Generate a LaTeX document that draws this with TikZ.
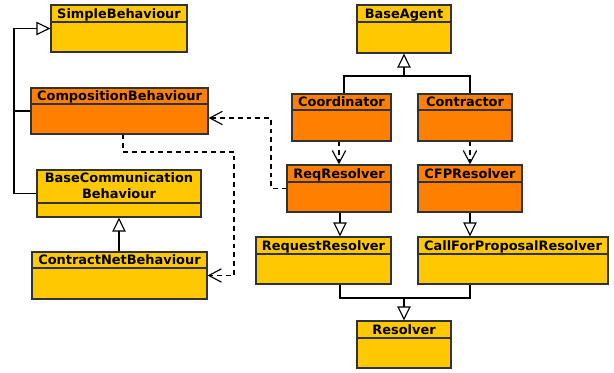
\documentclass[tikz,border=0pt]{standalone}
\usepackage{fontspec}
\setmainfont{DejaVu Sans}
\usetikzlibrary{arrows.meta,fit,calc}
\definecolor{cy}{RGB}{255,200,0}
\definecolor{co}{RGB}{255,128,0}
\definecolor{bd}{RGB}{50,50,50}
\newcommand\umlbox[8]{%
  \node[box, fill=#7, fit={(#2,#3) (#4,#5)}] (#1) {};
  \draw[bd, line width=0.9pt] (#2,#6) -- (#4,#6);
  \node[ttl, anchor=base] (#1t) at ({(#2+#4)/2},{#6-3.2}) {#8};
}
\begin{document}
\begin{tikzpicture}[x=0.75pt,y=-0.75pt,
  box/.style={draw=bd, line width=0.9pt, inner sep=0pt},
  ttl/.style={font=\fontsize{9.7}{12}\selectfont\bfseries, inner sep=0pt},
  conn/.style={line width=0.85pt},
  gen/.style={conn, -{Triangle[open,length=10.5pt,width=10pt,line width=0.85pt]}},
  dep/.style={conn, dash pattern=on 3.6pt off 3pt, -{Straight Barb[length=9.5pt,width=10pt,line width=0.85pt]}}]
\useasboundingbox (0,0) rectangle (614,373);

\umlbox{sb}{51}{5}{187}{52}{22}{cy}{SimpleBehaviour}
\umlbox{cb}{31}{88}{208}{134}{104}{co}{CompositionBehaviour}
\node[box, fill=cy, fit={(37,170) (201,217)}] (bcb) {};
\draw[bd, line width=0.9pt] (37,203) -- (201,203);
\node[ttl, anchor=base, align=center] (bcbt) at (119,199) {BaseCommunication\\Behaviour};
\umlbox{cnb}{32}{252}{207}{299}{268}{cy}{ContractNetBehaviour}
\umlbox{ba}{357}{5}{451}{53}{22}{cy}{BaseAgent}
\umlbox{coo}{292}{94}{391}{141}{110}{co}{Coordinator}
\umlbox{ctr}{418}{94}{512}{141}{110}{co}{Contractor}
\umlbox{rr}{287}{165}{391}{212}{182}{co}{ReqResolver}
\umlbox{cfp}{418}{165}{522}{212}{182}{co}{CFPResolver}
\umlbox{req}{256}{237}{391}{284}{254}{cy}{RequestResolver}
\umlbox{cfpr}{418}{237}{608}{284}{254}{cy}{CallForProposalResolver}
\umlbox{res}{357}{321}{451}{368}{338}{cy}{Resolver}

% helper coordinates
\coordinate (lx) at (14,0);
\coordinate (d1) at (123,152);
\coordinate (d2) at (234,0);
\coordinate (d3) at (271,118);
\coordinate (xa) at (344,0);
\coordinate (xb) at (470,0);
\coordinate (xs) at (404,0);
\coordinate (ya) at (0,76);
\coordinate (yb) at (0,298);
\coordinate (xr) at (340,0);

% generalizations, left side
\draw[conn] (cb.west) -- (cb.west -| lx);
\draw[gen] (bcb.west) -- (bcb.west -| lx) |- (sb.west);
\draw[gen] (cnb.north -| bcb.south) -- (bcb.south);

% dependencies, left side
\draw[dep] (cb.south -| d1) -- (d1) -| (d2 |- cnb.east) -- (cnb.east);
\draw[dep] (rr.west) -| (d3) -- (cb.east |- d3);

% agents to BaseAgent
\draw[conn] (coo.north -| xa) |- (xb |- ya) -- (ctr.north -| xb);
\draw[gen, line width=2pt] (xs |- ya) -- (ba.south -| xs);

% dependencies, agents to resolvers
\draw[dep] (coo.south -| rr.north) -- (rr.north);
\draw[dep] (ctr.south -| cfp.north) -- (cfp.north);

% resolver generalizations
\draw[gen] (rr.south -| xr) -- (req.north -| xr);
\draw[gen] (cfp.south) -- (cfp.south |- cfpr.north);
\draw[conn] (req.south -| xr) |- (xb |- yb) -- (cfpr.south -| xb);
\draw[gen, line width=2pt] (xs |- yb) -- (res.north -| xs);
\end{tikzpicture}
\end{document}
